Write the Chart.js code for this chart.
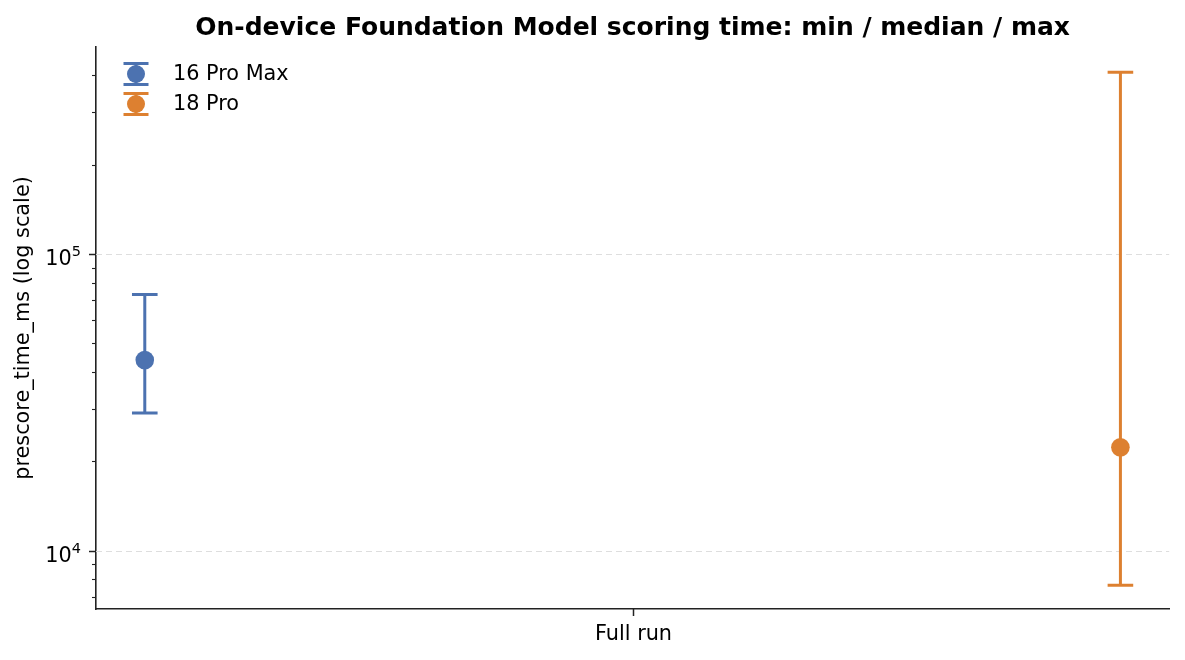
<!DOCTYPE html>
<html>
<head>
<meta charset="utf-8">
<title>On-device Foundation Model scoring time</title>
<script src="https://cdn.jsdelivr.net/npm/chart.js@4.4.1/dist/chart.umd.min.js"></script>
<style>
  html, body { margin: 0; padding: 0; background: #fff; }
  #wrap { width: 1185px; height: 660px; }
</style>
</head>
<body>
<div id="wrap"><canvas id="scoreChart" width="1185" height="660"></canvas></div>
<script>
// data
const categories = ['Full run'];
const devices = ['16 Pro Max', '18 Pro'];
const minMs = [29100, 7650];
const medianMs = [43900, 22300];
const maxMs = [73100, 409600];
const majorTicks = [10000, 100000];

const colors = ['#4c72b0', '#dd8030'];
const offsets = [-0.2, 0.2];   // dodge of each device around the category
const FONT = '"DejaVu Sans", sans-serif';
const INK = '#000';
const FS = 20.8;

const datasets = [];
devices.forEach((name, i) => {
    datasets.push({
        type: 'scatter',
        label: name,
        data: [{ x: offsets[i], y: medianMs[i] }],
        backgroundColor: colors[i],
        borderWidth: 0,
        pointRadius: 9.3,
        pointHoverRadius: 9.3,
        order: 0
    });
    datasets.push({
        type: 'line',
        label: name + ' range',
        data: [{ x: offsets[i], y: minMs[i] }, { x: offsets[i], y: maxMs[i] }],
        borderColor: colors[i],
        backgroundColor: colors[i],
        borderWidth: 3,
        pointStyle: 'line',
        pointRadius: 12.8,
        pointHoverRadius: 12.8,
        pointBorderWidth: 3,
        pointBorderColor: colors[i],
        fill: false,
        order: 1
    });
});

// axes decorations, title and legend drawn matplotlib style
const decorations = {
    id: 'decorations',
    beforeDatasetsDraw(chart) {
        const ctx = chart.ctx;
        const y = chart.scales.y;
        const area = chart.chartArea;
        ctx.save();
        ctx.strokeStyle = '#dedede';
        ctx.lineWidth = 1.2;
        ctx.setLineDash([6, 4]);
        majorTicks.forEach(v => {
            const py = Math.round(y.getPixelForValue(v)) + 0.5;
            ctx.beginPath();
            ctx.moveTo(area.left, py);
            ctx.lineTo(area.right, py);
            ctx.stroke();
        });
        ctx.restore();
    },
    afterDraw(chart) {
        const ctx = chart.ctx;
        const x = chart.scales.x;
        const y = chart.scales.y;
        const area = chart.chartArea;
        ctx.save();
        ctx.strokeStyle = '#222';
        ctx.fillStyle = INK;

        // y ticks: majors with labels, minors at 2..9 x 10^n
        for (let e = 3; e <= 6; e++) {
            for (let m = 1; m <= 9; m++) {
                const v = m * Math.pow(10, e);
                if (v < y.min || v > y.max) continue;
                const py = Math.round(y.getPixelForValue(v)) + 0.5;
                const major = m === 1;
                ctx.lineWidth = major ? 1.5 : 1.1;
                ctx.beginPath();
                ctx.moveTo(area.left, py);
                ctx.lineTo(area.left - (major ? 7 : 4), py);
                ctx.stroke();
                if (major) {
                    ctx.font = '14.5px ' + FONT;
                    ctx.textAlign = 'right';
                    ctx.textBaseline = 'alphabetic';
                    const sup = String(e);
                    const supW = ctx.measureText(sup).width;
                    const right = area.left - 15;
                    ctx.fillText(sup, right, py + 1.5);
                    ctx.font = FS + 'px ' + FONT;
                    ctx.fillText('10', right - supW, py + 10);
                }
            }
        }

        // x tick and category label
        categories.forEach((c, i) => {
            const px = Math.round(x.getPixelForValue(i)) + 0.5;
            ctx.lineWidth = 1.5;
            ctx.beginPath();
            ctx.moveTo(px, area.bottom);
            ctx.lineTo(px, area.bottom + 7);
            ctx.stroke();
            ctx.font = FS + 'px ' + FONT;
            ctx.textAlign = 'center';
            ctx.textBaseline = 'alphabetic';
            ctx.fillText(c, px, area.bottom + 31);
        });

        // y axis title
        ctx.save();
        ctx.translate(24, (area.top + area.bottom) / 2);
        ctx.rotate(-Math.PI / 2);
        ctx.font = FS + 'px ' + FONT;
        ctx.textAlign = 'center';
        ctx.textBaseline = 'middle';
        ctx.fillText('prescore_time_ms (log scale)', 0, 0);
        ctx.restore();

        // title
        ctx.fillStyle = '#000';
        ctx.font = 'bold 25px ' + FONT;
        ctx.textAlign = 'center';
        ctx.textBaseline = 'alphabetic';
        ctx.fillText('On-device Foundation Model scoring time: min / median / max',
            (area.left + area.right) / 2, 35);

        // legend with errorbar glyphs
        devices.forEach((name, i) => {
            const cx = area.left + 40;
            const cy = area.top + 27 + i * 30;
            ctx.strokeStyle = colors[i];
            ctx.fillStyle = colors[i];
            ctx.lineWidth = 3;
            ctx.beginPath();
            ctx.moveTo(cx - 12.5, cy - 10.5); ctx.lineTo(cx + 12.5, cy - 10.5);
            ctx.moveTo(cx - 12.5, cy + 10.5); ctx.lineTo(cx + 12.5, cy + 10.5);
            ctx.moveTo(cx, cy - 10.5); ctx.lineTo(cx, cy + 10.5);
            ctx.stroke();
            ctx.beginPath();
            ctx.arc(cx, cy, 9, 0, Math.PI * 2);
            ctx.fill();
            ctx.fillStyle = INK;
            ctx.font = FS + 'px ' + FONT;
            ctx.textAlign = 'left';
            ctx.textBaseline = 'middle';
            ctx.fillText(name, cx + 37, cy + 1);
        });
        ctx.restore();
    }
};

new Chart(document.getElementById('scoreChart').getContext('2d'), {
    data: { datasets: datasets },
    options: {
        responsive: false,
        animation: false,
        events: [],
        layout: { padding: { top: 47, right: 15, left: 0, bottom: 0 } },
        scales: {
            x: {
                type: 'linear',
                min: -0.22,
                max: 0.22,
                grid: { display: false },
                ticks: { display: false },
                border: { display: true, color: '#222', width: 1.6 },
                afterFit(scale) { scale.height = 51; }
            },
            y: {
                type: 'logarithmic',
                min: 6360,
                max: 498600,
                grid: { display: false },
                ticks: { display: false },
                border: { display: true, color: '#222', width: 1.6 },
                afterFit(scale) { scale.width = 96; }
            }
        },
        plugins: {
            legend: { display: false },
            title: { display: false },
            tooltip: { enabled: false }
        }
    },
    plugins: [decorations]
});
</script>
</body>
</html>
